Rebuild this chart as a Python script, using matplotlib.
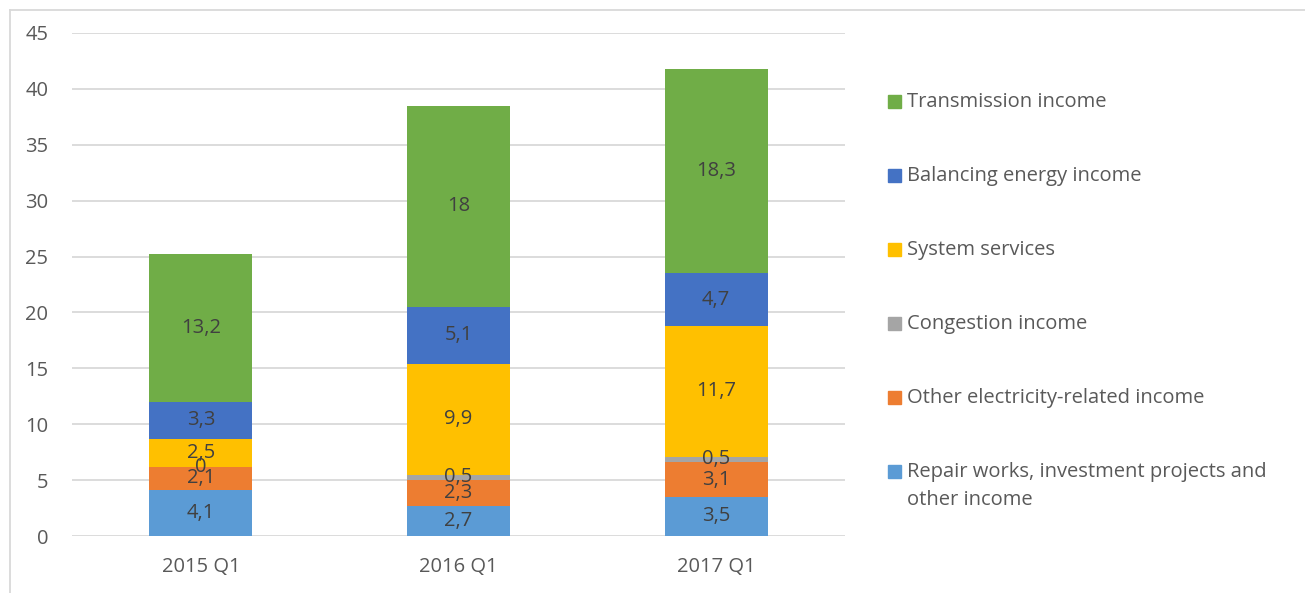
import matplotlib.pyplot as plt
from matplotlib.patches import Rectangle
from matplotlib.lines import Line2D
import numpy as np

plt.rcParams['font.family'] = ['Open Sans', 'DejaVu Sans']

# Data
quarters = ['2015 Q1', '2016 Q1', '2017 Q1']
series_names = ['Repair works, investment projects and\nother income',
                'Other electricity-related income',
                'Congestion income',
                'System services',
                'Balancing energy income',
                'Transmission income']
repair = [4.1, 2.7, 3.5]
other_elec = [2.1, 2.3, 3.1]
congestion = [0, 0.5, 0.5]
system_services = [2.5, 9.9, 11.7]
balancing = [3.3, 5.1, 4.7]
transmission = [13.2, 18, 18.3]
colors = ['#5B9BD5', '#ED7D31', '#A5A5A5', '#FFC000', '#4472C4', '#70AD47']

all_series = [repair, other_elec, congestion, system_services, balancing, transmission]

fs = 14.5

fig = plt.figure(figsize=(13.05, 5.93), dpi=100)
ax = fig.add_axes([0.0552, 0.0961, 0.5923, 0.8483])

x = np.arange(len(quarters))
bottom = np.zeros(len(quarters))
for vals, col in zip(all_series, colors):
    vals = np.array(vals, dtype=float)
    ax.bar(x, vals, 0.4, bottom=bottom, color=col, zorder=3)
    for xi, b, v in zip(x, bottom, vals):
        ax.text(xi, b + v / 2, f'{v:g}'.replace('.', ','), ha='center', va='center',
                fontsize=fs, color='#404040', zorder=4)
    bottom += vals

ax.set_xlim(-0.5, 2.5)
ax.set_ylim(0, 45)
ax.set_yticks(range(0, 46, 5))
ax.set_xticks(x)
ax.set_xticklabels(quarters)
ax.grid(axis='y', color='#D9D9D9', linewidth=1.3, zorder=0)
for s in ax.spines.values():
    s.set_visible(False)
ax.tick_params(axis='both', length=0, labelsize=fs, labelcolor='#595959')
ax.tick_params(axis='y', pad=17)
ax.tick_params(axis='x', pad=15)

# Legend, drawn by hand (reverse order)
ys = [101, 175, 249, 323, 397, 471]
for name, col, yp in zip(series_names[::-1], colors[::-1], ys):
    fy = 1 - yp / 593
    fig.patches.append(Rectangle((888 / 1305, fy - 6.5 / 593), 13 / 1305, 13 / 593,
                                 transform=fig.transFigure, color=col))
    fig.text(907 / 1305, fy + 9 / 593, name, ha='left', va='top', fontsize=fs,
             color='#595959', linespacing=1.55)

# chart frame
fig.lines.append(Line2D([10 / 1305, 10 / 1305], [0, 1 - 10 / 593], transform=fig.transFigure,
                        color='#D9D9D9', linewidth=1.3))
fig.lines.append(Line2D([10 / 1305, 1], [1 - 10 / 593, 1 - 10 / 593], transform=fig.transFigure,
                        color='#D9D9D9', linewidth=1.3))

fig.savefig('out.png', dpi=100)
